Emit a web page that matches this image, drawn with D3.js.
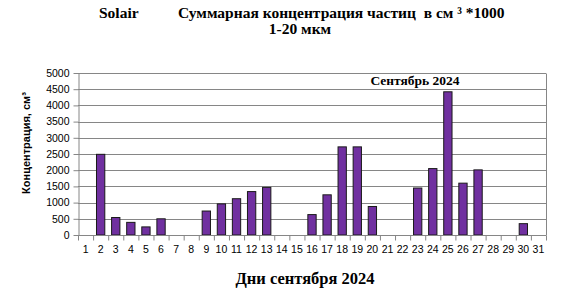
<!DOCTYPE html>
<html><head><meta charset="utf-8">
<script src="https://cdn.jsdelivr.net/npm/d3@7"></script>
<style>body{margin:0;background:#fff}svg{display:block}</style>
</head><body>
<script>
const days = d3.range(1, 32).map(String);
const values = [null, 2490, 540, 390, 250, 500, null, null, 740, 960, 1120, 1340, 1470, null, null,
  630, 1240, 2720, 2720, 880, null, null, 1450, 2050, 4420, 1600, 2010, null, null, 350, null];
const yTicks = d3.range(0, 5001, 500);
const titleLine1a = "Solair";
const titleLine1b = "Суммарная концентрация частиц  в см ³ *1000";
const titleLine2 = "1-20 мкм";
const yTitle = "Концентрация, см³";
const xTitle = "Дни сентября 2024";
const inner = "Сентябрь 2024";

const W = 566, H = 307;
const m = {l: 78, r: 20, t: 73, b: 72};
const svg = d3.select("body").append("svg").attr("width", W).attr("height", H);
const x = d3.scaleBand().domain(days).range([m.l, W - m.r]).paddingInner(0.45).paddingOuter(0.225);
const xb = d3.scaleBand().domain(days).range([m.l, W - m.r]);
const y = d3.scaleLinear().domain([0, 5000]).range([H - m.b, m.t]);

const serif = "'Liberation Serif','Times New Roman',serif";
const sans = "'Liberation Sans',Arial,sans-serif";

// gridlines
svg.append("g").selectAll("line").data(yTicks.filter(d => d > 0)).join("line")
  .attr("x1", m.l).attr("x2", W - m.r).attr("y1", d => Math.round(y(d)) + 0.5).attr("y2", d => Math.round(y(d)) + 0.5)
  .attr("stroke", "#868686").attr("stroke-width", 1);
// right border
svg.append("line").attr("x1", W - m.r + 0.5).attr("x2", W - m.r + 0.5)
  .attr("y1", Math.round(y(5000)) + 0.5).attr("y2", Math.round(y(0)) + 0.5).attr("stroke", "#868686");

// bars
svg.append("g").selectAll("rect").data(days.map((d, i) => ({d, v: values[i]})).filter(o => o.v != null)).join("rect")
  .attr("x", o => x(o.d)).attr("width", x.bandwidth())
  .attr("y", o => y(o.v)).attr("height", o => y(0) - y(o.v))
  .attr("fill", "#7030A0").attr("stroke", "#1a1a1a").attr("stroke-width", 1);

// y axis
const ya = d3.axisLeft(y).tickValues(yTicks).tickFormat(d3.format("d")).tickSize(5).tickPadding(4).tickSizeOuter(0);
const gy = svg.append("g").attr("transform", `translate(${m.l + 0.5},0)`).call(ya);
gy.selectAll("text").attr("font-family", sans).attr("font-size", 10.5).attr("fill", "#000");
gy.selectAll("line,path").attr("stroke", "#868686");

// x axis
const gx = svg.append("g").attr("transform", `translate(0,${Math.round(y(0)) + 0.5})`);
gx.append("line").attr("x1", m.l).attr("x2", W - m.r).attr("stroke", "#868686");
gx.selectAll("line.t").data(days.concat(["end"])).join("line").attr("class", "t")
  .attr("x1", d => (d === "end" ? W - m.r : xb(d)) + 0.5).attr("x2", d => (d === "end" ? W - m.r : xb(d)) + 0.5)
  .attr("y1", 0).attr("y2", 5).attr("stroke", "#868686");
gx.selectAll("text").data(days).join("text")
  .attr("x", d => xb(d) + xb.bandwidth() / 2).attr("y", 17)
  .attr("text-anchor", "middle").attr("font-family", sans).attr("font-size", 10.5).text(d => d);

// titles
svg.append("text").attr("x", 99).attr("y", 18).attr("font-family", serif).attr("font-weight", "bold")
  .attr("font-size", 15.5).text(titleLine1a);
svg.append("text").attr("x", 178).attr("y", 18).attr("font-family", serif).attr("font-weight", "bold")
  .attr("font-size", 15.5).attr("xml:space", "preserve").style("white-space", "pre").text(titleLine1b);
svg.append("text").attr("x", 300).attr("y", 34).attr("text-anchor", "middle").attr("font-family", serif).attr("font-weight", "bold")
  .attr("font-size", 15.5).text(titleLine2);
svg.append("text").attr("x", 415).attr("y", 85).attr("text-anchor", "middle").attr("font-family", serif).attr("font-weight", "bold")
  .attr("font-size", 13.5).text(inner);
svg.append("text").attr("transform", "translate(30,143) rotate(-90)").attr("text-anchor", "middle")
  .attr("font-family", sans).attr("font-weight", "bold").attr("font-size", 11).text(yTitle);
svg.append("text").attr("x", 305).attr("y", 284).attr("text-anchor", "middle").attr("font-family", serif).attr("font-weight", "bold")
  .attr("font-size", 16.5).text(xTitle);
</script>
</body></html>
